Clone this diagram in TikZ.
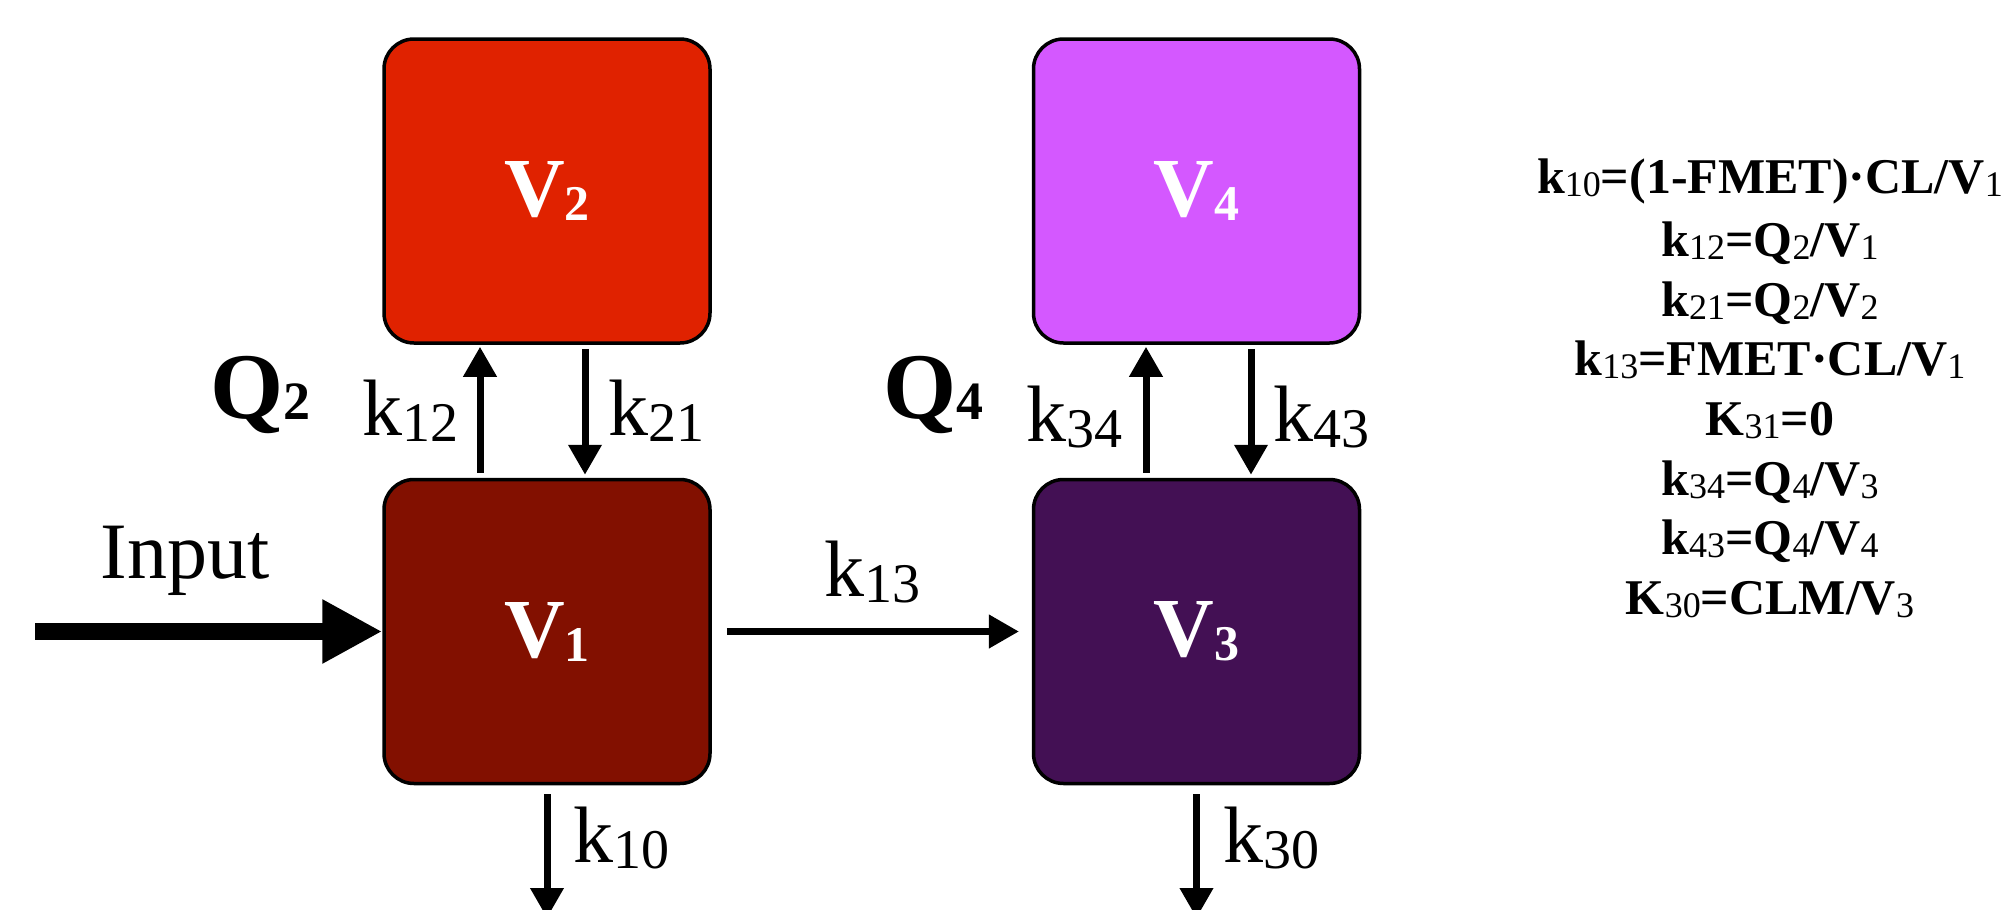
\documentclass[tikz,border=0pt]{standalone}
\usepackage{fontspec}
\setmainfont{Liberation Serif}
\usepackage{xcolor}
\usetikzlibrary{arrows.meta,positioning}
\definecolor{vonered}{RGB}{130,16,0}
\definecolor{vtwored}{RGB}{224,34,0}
\definecolor{vthreepurple}{RGB}{67,16,84}
\definecolor{vfourviolet}{RGB}{212,88,255}
\newcommand{\vname}[1]{\textbf{V\raisebox{-2pt}{\fontsize{25}{25}\selectfont #1}}}
\newcommand{\klab}[1]{k\raisebox{-3pt}{\fontsize{28}{28}\selectfont #1}}
\newcommand{\qlab}[1]{\textbf{Q\raisebox{-0.5pt}{\fontsize{27}{27}\selectfont #1}}}
\newcommand{\eqsub}[1]{\raisebox{-1.5pt}{\fontsize{18}{18}\selectfont\mdseries #1}}
\tikzset{
  compbox/.style={rectangle,rounded corners=15pt,draw,line width=1.75pt,minimum width=163pt,minimum height=152pt,inner sep=0pt,text=white,font=\fontsize{42}{42}\selectfont},
  flowarrow/.style={-{Triangle[length=15pt,width=16pt]},line width=3.5pt},
  inarrow/.style={-{Triangle[length=30pt,width=30pt]},line width=8.5pt},
  ratelabel/.style={anchor=base west,inner sep=0pt,font=\fontsize{40}{40}\selectfont},
  flowlabel/.style={anchor=base west,inner sep=0pt,font=\fontsize{47}{47}\selectfont}
}
\begin{document}
\begin{tikzpicture}[x=0.5pt,y=-0.5pt]
  \useasboundingbox (0,0) rectangle (2010,910);
  \node[compbox,fill=vonered] (v1) at (547,631.5) {\vname{1}};
  \node[compbox,fill=vtwored,above=66.5pt of v1] (v2) {\vname{2}};
  \node[compbox,fill=vthreepurple,right=160pt of v1] (v3) {\vname{3}};
  \node[compbox,fill=vfourviolet,above=66.5pt of v3] (v4) {\vname{4}};
  \coordinate (src) at (35,631.5);
  \coordinate (out1) at (547,918);
  \coordinate (out3) at (1196.5,918);
  \draw[inarrow] (src) -- (v1.west);
  \draw[flowarrow,shorten <=2.5pt,shorten >=1pt] ([xshift=-33.5pt]v1.north) -- ([xshift=-33.5pt]v2.south);
  \draw[flowarrow,shorten <=2pt,shorten >=1.5pt] ([xshift=19pt]v2.south) -- ([xshift=19pt]v1.north);
  \draw[flowarrow,shorten <=2.5pt,shorten >=1pt] ([xshift=-25.25pt]v3.north) -- ([xshift=-25.25pt]v4.south);
  \draw[flowarrow,shorten <=2pt,shorten >=1.5pt] ([xshift=27.25pt]v4.south) -- ([xshift=27.25pt]v3.north);
  \draw[flowarrow,shorten <=7.5pt,shorten >=6.4pt] (v1.east) -- (v3.west);
  \draw[flowarrow,shorten <=4.4pt] (v1.south) -- (out1);
  \draw[flowarrow,shorten <=4.4pt] (v3.south) -- (out3);
  % labels
  \node[ratelabel] (input) at (100,578) {Input};
  \node[flowlabel] (q2) at (210,418) {\qlab{2}};
  \node[flowlabel] (q4) at (883,418) {\qlab{4}};
  \node[ratelabel] (l12) at (362,435) {\klab{12}};
  \node[ratelabel] (l21) at (608,435) {\klab{21}};
  \node[ratelabel] (l34) at (1026,441) {\klab{34}};
  \node[ratelabel] (l43) at (1273,441) {\klab{43}};
  \node[ratelabel] (l13) at (824,596) {\klab{13}};
  \node[ratelabel] (l10) at (573,862) {\klab{10}};
  \node[ratelabel] (l30) at (1223,862) {\klab{30}};
  % rate equations
  \node[anchor=north,inner sep=0pt,align=center,font=\fontsize{25}{29.8}\selectfont\bfseries] (rates) at (1770,158)
    {k\eqsub{10}=(1-FMET)·CL/V\eqsub{1}\\[2pt]
     k\eqsub{12}=Q\eqsub{2}/V\eqsub{1}\\
     k\eqsub{21}=Q\eqsub{2}/V\eqsub{2}\\
     k\eqsub{13}=FMET·CL/V\eqsub{1}\\
     K\eqsub{31}=0\\
     k\eqsub{34}=Q\eqsub{4}/V\eqsub{3}\\
     k\eqsub{43}=Q\eqsub{4}/V\eqsub{4}\\
     K\eqsub{30}=CLM/V\eqsub{3}};
\end{tikzpicture}
\end{document}
